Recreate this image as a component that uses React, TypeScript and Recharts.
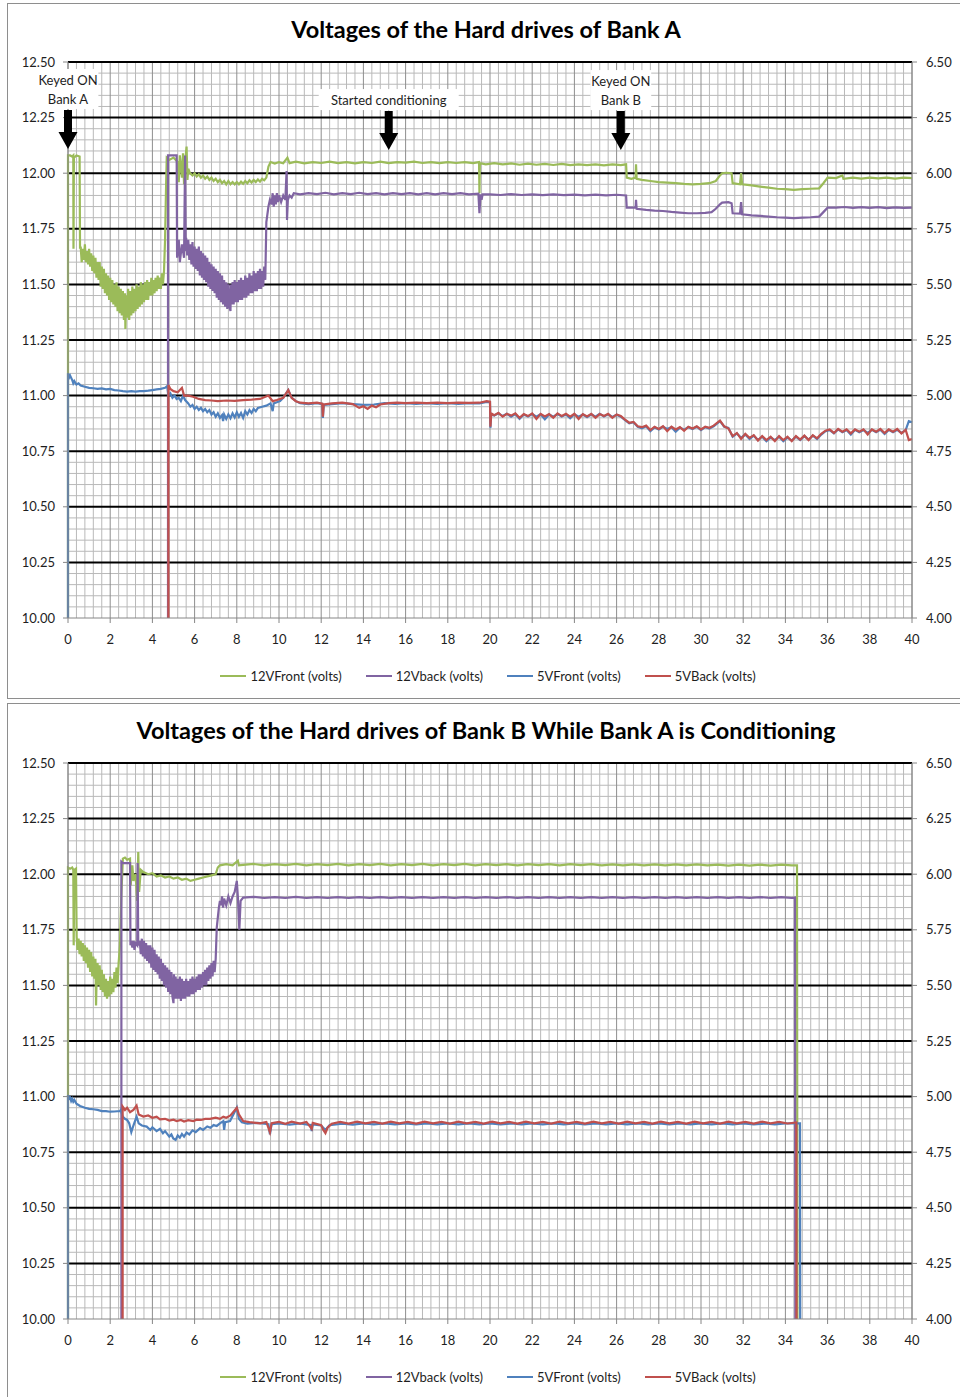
import { Line, LineChart, ReferenceDot, ReferenceLine, XAxis, YAxis } from "recharts";

type P = [number, number];

const seriesNames = ["12VFront (volts)", "12Vback (volts)", "5VFront (volts)", "5VBack (volts)"];
const seriesColors = ["#9BBB59", "#8064A2", "#4F81BD", "#C0504D"];

const leftTicks = [10, 10.25, 10.5, 10.75, 11, 11.25, 11.5, 11.75, 12, 12.25, 12.5];
const rightTicks = [4, 4.25, 4.5, 4.75, 5, 5.25, 5.5, 5.75, 6, 6.25, 6.5];
const xTicks = [0, 2, 4, 6, 8, 10, 12, 14, 16, 18, 20, 22, 24, 26, 28, 30, 32, 34, 36, 38, 40];

const titleA = "Voltages of the Hard drives of Bank A";
const titleB = "Voltages of the Hard drives of Bank B While Bank A is Conditioning";

// bank A, left axis (12V)
const bankA12Front: P[] = [
  [0, 10], [0, 12.08], [0.1, 12.08], [0.2, 12.075], [0.25, 12.08], [0.26, 11.66], [0.28, 12.07], [0.4, 12.08], [0.55, 12.075], [0.57, 11.66],
  [0.6, 11.67], [0.65, 11.6], [0.7, 11.66], [0.75, 11.61], [0.8, 11.68], [0.85, 11.6], [0.9, 11.65], [0.95, 11.59], [1.0, 11.66], [1.05, 11.58],
  [1.1, 11.64], [1.15, 11.56], [1.2, 11.63], [1.25, 11.55], [1.3, 11.62], [1.35, 11.53], [1.4, 11.6], [1.45, 11.52], [1.5, 11.6], [1.55, 11.49],
  [1.6, 11.58], [1.65, 11.48], [1.7, 11.57], [1.75, 11.46], [1.8, 11.55], [1.85, 11.45], [1.9, 11.54], [1.95, 11.43], [2.0, 11.53], [2.05, 11.42],
  [2.1, 11.52], [2.15, 11.41], [2.2, 11.5], [2.25, 11.4], [2.3, 11.51], [2.35, 11.38], [2.4, 11.49], [2.45, 11.37], [2.5, 11.48], [2.55, 11.36],
  [2.6, 11.47], [2.65, 11.34], [2.7, 11.46], [2.72, 11.3], [2.75, 11.45], [2.8, 11.35], [2.85, 11.48], [2.9, 11.34], [2.95, 11.47], [3.0, 11.36],
  [3.05, 11.49], [3.1, 11.37], [3.15, 11.48], [3.2, 11.38], [3.25, 11.5], [3.3, 11.39], [3.35, 11.49], [3.4, 11.4], [3.45, 11.51], [3.5, 11.41],
  [3.55, 11.5], [3.6, 11.42], [3.65, 11.51], [3.7, 11.43], [3.75, 11.52], [3.8, 11.43], [3.85, 11.51], [3.9, 11.45], [3.95, 11.53], [4.0, 11.45],
  [4.05, 11.52], [4.1, 11.46], [4.15, 11.53], [4.2, 11.47], [4.25, 11.54], [4.3, 11.48], [4.35, 11.53], [4.4, 11.48], [4.45, 11.55], [4.5, 11.5],
  [4.55, 11.56], [4.6, 11.7], [4.65, 11.95], [4.68, 12.07], [4.8, 12.06], [5.0, 12.07], [5.1, 12.06], [5.2, 12.05], [5.25, 11.96], [5.3, 12.08],
  [5.4, 11.98], [5.45, 12.09], [5.5, 11.95], [5.55, 12.05], [5.62, 12.12], [5.66, 11.97], [5.7, 12.02], [5.78, 12.0], [5.9, 11.99], [6.0, 12.0],
  [6.1, 11.985], [6.2, 11.995], [6.3, 11.98], [6.4, 11.99], [6.5, 11.975], [6.6, 11.985], [6.7, 11.97], [6.8, 11.98], [6.9, 11.965], [7.0, 11.975],
  [7.1, 11.96], [7.2, 11.97], [7.3, 11.955], [7.4, 11.965], [7.5, 11.95], [7.6, 11.965], [7.7, 11.95], [7.8, 11.96], [7.9, 11.95], [8.0, 11.96],
  [8.1, 11.95], [8.2, 11.962], [8.3, 11.952], [8.4, 11.965], [8.5, 11.955], [8.6, 11.968], [8.7, 11.958], [8.8, 11.97], [8.9, 11.96], [9.0, 11.972],
  [9.1, 11.962], [9.2, 11.975], [9.3, 11.968], [9.4, 11.98], [9.5, 12.03], [9.6, 12.05], [9.8, 12.043], [10.0, 12.05], [10.2, 12.045], [10.4, 12.07],
  [10.5, 12.045], [10.8, 12.052], [11.2, 12.044], [11.6, 12.05], [12.0, 12.046], [12.4, 12.052], [12.8, 12.045], [13.2, 12.05], [13.6, 12.044], [14.0, 12.05],
  [14.4, 12.046], [14.8, 12.052], [15.2, 12.045], [15.6, 12.05], [16.0, 12.048], [16.4, 12.052], [16.8, 12.046], [17.2, 12.05], [17.6, 12.045], [18.0, 12.05],
  [18.4, 12.046], [18.8, 12.05], [19.2, 12.045], [19.48, 12.05], [19.5, 11.91], [19.52, 12.045], [19.8, 12.04], [20.2, 12.045], [20.6, 12.04], [21.0, 12.044],
  [21.4, 12.038], [21.8, 12.043], [22.2, 12.038], [22.6, 12.042], [23.0, 12.037], [23.4, 12.042], [23.8, 12.036], [24.2, 12.04], [24.6, 12.036], [25.0, 12.04],
  [25.4, 12.035], [25.8, 12.04], [26.2, 12.036], [26.45, 12.04], [26.48, 11.98], [26.7, 11.975], [26.9, 11.98], [26.92, 12.04], [26.95, 11.975], [27.2, 11.97],
  [27.6, 11.965], [28.0, 11.96], [28.4, 11.958], [28.8, 11.955], [29.2, 11.952], [29.6, 11.95], [30.0, 11.952], [30.4, 11.955], [30.7, 11.965], [30.9, 11.99],
  [31.0, 12.0], [31.2, 12.002], [31.45, 12.0], [31.5, 11.955], [31.85, 11.95], [31.9, 12.0], [31.95, 11.95], [32.4, 11.945], [32.8, 11.94], [33.2, 11.935],
  [33.6, 11.93], [34.0, 11.928], [34.4, 11.925], [34.8, 11.928], [35.2, 11.93], [35.6, 11.932], [35.8, 11.955], [36.0, 11.98], [36.4, 11.978], [36.7, 11.99],
  [36.75, 11.975], [37.2, 11.98], [37.6, 11.976], [38.0, 11.98], [38.4, 11.977], [38.8, 11.98], [39.2, 11.976], [39.6, 11.98], [40, 11.978],
];

const bankA12Back: P[] = [
  [4.74, 10], [4.74, 12.08], [5.0, 12.08], [5.15, 12.08], [5.17, 11.62], [5.25, 11.7], [5.3, 11.6], [5.4, 11.68], [5.5, 11.62], [5.55, 12.08],
  [5.58, 11.65], [5.6, 11.71], [5.65, 11.63], [5.7, 11.7], [5.75, 11.61], [5.8, 11.68], [5.85, 11.59], [5.9, 11.69], [5.95, 11.58], [6.0, 11.67],
  [6.05, 11.57], [6.1, 11.66], [6.15, 11.56], [6.2, 11.67], [6.25, 11.54], [6.3, 11.65], [6.35, 11.53], [6.4, 11.64], [6.45, 11.52], [6.5, 11.63],
  [6.55, 11.51], [6.6, 11.62], [6.65, 11.49], [6.7, 11.6], [6.75, 11.48], [6.8, 11.59], [6.85, 11.47], [6.9, 11.58], [6.95, 11.46], [7.0, 11.57],
  [7.05, 11.44], [7.1, 11.56], [7.15, 11.43], [7.2, 11.55], [7.25, 11.42], [7.3, 11.54], [7.35, 11.41], [7.4, 11.52], [7.45, 11.4], [7.5, 11.51],
  [7.55, 11.39], [7.6, 11.5], [7.65, 11.4], [7.7, 11.38], [7.72, 11.5], [7.75, 11.41], [7.8, 11.51], [7.85, 11.41], [7.9, 11.52], [7.95, 11.42],
  [8.0, 11.51], [8.05, 11.42], [8.1, 11.52], [8.15, 11.43], [8.2, 11.53], [8.25, 11.43], [8.3, 11.52], [8.35, 11.44], [8.4, 11.54], [8.45, 11.44],
  [8.5, 11.53], [8.55, 11.45], [8.6, 11.55], [8.65, 11.46], [8.7, 11.54], [8.75, 11.46], [8.8, 11.56], [8.85, 11.47], [8.9, 11.55], [8.95, 11.47],
  [9.0, 11.56], [9.05, 11.48], [9.1, 11.57], [9.15, 11.48], [9.2, 11.56], [9.25, 11.49], [9.3, 11.58], [9.35, 11.52], [9.4, 11.78], [9.5, 11.85],
  [9.57, 11.88], [9.65, 11.86], [9.7, 11.91], [9.75, 11.85], [9.8, 11.9], [9.85, 11.86], [9.9, 11.91], [9.95, 11.87], [10.0, 11.9], [10.1, 11.87],
  [10.2, 11.9], [10.3, 11.88], [10.36, 12.01], [10.38, 11.79], [10.42, 11.88], [10.5, 11.9], [10.6, 11.89], [10.7, 11.91], [11.0, 11.905], [11.4, 11.91],
  [11.8, 11.906], [12.2, 11.912], [12.6, 11.905], [13.0, 11.91], [13.4, 11.906], [13.8, 11.912], [14.2, 11.906], [14.6, 11.91], [15.0, 11.905], [15.4, 11.91],
  [15.8, 11.906], [16.2, 11.91], [16.6, 11.905], [17.0, 11.91], [17.4, 11.905], [17.8, 11.91], [18.2, 11.906], [18.6, 11.91], [19.0, 11.905], [19.45, 11.908],
  [19.5, 11.82], [19.55, 11.905], [19.6, 11.88], [19.65, 11.905], [20.0, 11.905], [20.5, 11.902], [21.0, 11.906], [21.5, 11.902], [22.0, 11.905], [22.5, 11.901],
  [23.0, 11.905], [23.5, 11.901], [24.0, 11.904], [24.5, 11.9], [25.0, 11.904], [25.5, 11.9], [26.0, 11.903], [26.45, 11.9], [26.48, 11.845], [26.9, 11.845],
  [26.92, 11.88], [26.95, 11.84], [27.4, 11.835], [27.8, 11.832], [28.2, 11.83], [28.6, 11.826], [29.0, 11.823], [29.4, 11.82], [29.8, 11.82], [30.2, 11.822],
  [30.5, 11.825], [30.7, 11.84], [30.9, 11.86], [31.0, 11.868], [31.3, 11.87], [31.45, 11.865], [31.5, 11.82], [31.85, 11.818], [31.9, 11.87], [31.95, 11.815],
  [32.4, 11.81], [32.8, 11.808], [33.2, 11.805], [33.6, 11.802], [34.0, 11.8], [34.4, 11.798], [34.8, 11.8], [35.2, 11.802], [35.6, 11.805], [35.8, 11.825],
  [36.0, 11.845], [36.4, 11.845], [36.8, 11.848], [37.2, 11.844], [37.6, 11.847], [38.0, 11.844], [38.4, 11.847], [38.8, 11.843], [39.2, 11.846], [39.6, 11.844],
  [40, 11.845],
];

// bank A, right axis (5V)
const bankA5Front: P[] = [
  [0, 4], [0, 5.1], [0.05, 5.08], [0.1, 5.09], [0.2, 5.07], [0.25, 5.055], [0.3, 5.065], [0.4, 5.05], [0.5, 5.055], [0.6, 5.045],
  [0.8, 5.04], [1.0, 5.035], [1.2, 5.033], [1.4, 5.03], [1.6, 5.032], [1.8, 5.028], [2.0, 5.03], [2.2, 5.025], [2.4, 5.023], [2.6, 5.02],
  [2.8, 5.018], [3.0, 5.02], [3.2, 5.018], [3.4, 5.02], [3.6, 5.02], [3.8, 5.022], [4.0, 5.025], [4.2, 5.028], [4.4, 5.03], [4.6, 5.035],
  [4.7, 5.043], [4.76, 5.0], [4.85, 5.01], [4.95, 4.99], [5.05, 5.0], [5.15, 4.985], [5.25, 4.99], [5.35, 4.975], [5.45, 5.0], [5.55, 4.98],
  [5.7, 4.965], [5.8, 4.95], [5.9, 4.958], [6.0, 4.94], [6.1, 4.95], [6.2, 4.935], [6.3, 4.945], [6.4, 4.93], [6.5, 4.94], [6.6, 4.925],
  [6.7, 4.935], [6.8, 4.915], [6.9, 4.925], [7.0, 4.905], [7.1, 4.92], [7.2, 4.9], [7.3, 4.912], [7.35, 4.885], [7.4, 4.915], [7.5, 4.895],
  [7.6, 4.915], [7.7, 4.898], [7.8, 4.92], [7.9, 4.902], [8.0, 4.925], [8.1, 4.905], [8.2, 4.922], [8.3, 4.9], [8.4, 4.93], [8.5, 4.915],
  [8.6, 4.935], [8.7, 4.922], [8.8, 4.94], [8.9, 4.93], [9.0, 4.945], [9.2, 4.95], [9.4, 4.955], [9.6, 4.965], [9.7, 4.93], [9.75, 4.965],
  [9.9, 4.97], [10.05, 4.975], [10.2, 4.99], [10.44, 5.025], [10.6, 4.99], [10.8, 4.975], [11.0, 4.966], [11.4, 4.962], [11.8, 4.966], [12.05, 4.962],
  [12.08, 4.9], [12.12, 4.958], [12.5, 4.962], [13.0, 4.966], [13.5, 4.962], [14.0, 4.958], [14.5, 4.96], [15.0, 4.966], [15.5, 4.963], [16.0, 4.966],
  [16.5, 4.963], [17.0, 4.966], [17.5, 4.963], [18.0, 4.966], [18.5, 4.963], [19.0, 4.966], [19.5, 4.965], [19.84, 4.972], [20.0, 4.97], [20.02, 4.855],
  [20.05, 4.915], [20.2, 4.91], [20.4, 4.92], [20.6, 4.908], [20.8, 4.918], [21.0, 4.905], [21.2, 4.917], [21.4, 4.895], [21.6, 4.915], [21.8, 4.906],
  [22.0, 4.917], [22.2, 4.905], [22.4, 4.916], [22.6, 4.893], [22.8, 4.915], [23.0, 4.905], [23.2, 4.917], [23.4, 4.906], [23.6, 4.915], [23.8, 4.898],
  [24.0, 4.916], [24.2, 4.905], [24.4, 4.915], [24.6, 4.903], [24.8, 4.916], [25.0, 4.905], [25.2, 4.918], [25.4, 4.906], [25.6, 4.916], [25.8, 4.904],
  [26.0, 4.914], [26.2, 4.905], [26.4, 4.89], [26.6, 4.875], [26.8, 4.88], [27.0, 4.86], [27.2, 4.853], [27.4, 4.862], [27.6, 4.84], [27.8, 4.857],
  [28.0, 4.848], [28.2, 4.86], [28.4, 4.85], [28.6, 4.858], [28.8, 4.838], [29.0, 4.856], [29.2, 4.847], [29.4, 4.858], [29.6, 4.85], [29.8, 4.86],
  [30.0, 4.845], [30.2, 4.858], [30.4, 4.852], [30.6, 4.862], [30.9, 4.885], [31.1, 4.86], [31.3, 4.855], [31.5, 4.815], [31.7, 4.83], [31.9, 4.81],
  [32.1, 4.825], [32.3, 4.805], [32.5, 4.82], [32.7, 4.8], [32.9, 4.815], [33.1, 4.795], [33.3, 4.812], [33.5, 4.8], [33.7, 4.815], [33.9, 4.795],
  [34.1, 4.812], [34.3, 4.798], [34.5, 4.815], [34.7, 4.8], [34.9, 4.818], [35.1, 4.802], [35.3, 4.82], [35.5, 4.805], [35.7, 4.825], [35.9, 4.84],
  [36.1, 4.845], [36.3, 4.83], [36.5, 4.848], [36.7, 4.835], [36.9, 4.845], [37.1, 4.825], [37.3, 4.846], [37.5, 4.835], [37.7, 4.845], [37.9, 4.832],
  [38.1, 4.846], [38.3, 4.835], [38.5, 4.847], [38.7, 4.828], [38.9, 4.846], [39.1, 4.835], [39.3, 4.846], [39.5, 4.832], [39.7, 4.845], [39.85, 4.885],
  [40, 4.88],
];

const bankA5Back: P[] = [
  [4.76, 4], [4.76, 5.048], [4.85, 5.03], [5.0, 5.02], [5.2, 5.015], [5.4, 5.035], [5.5, 5.0], [5.7, 5.0], [5.93, 4.995], [6.2, 4.985],
  [6.5, 4.98], [6.8, 4.978], [7.1, 4.975], [7.5, 4.978], [7.9, 4.976], [8.3, 4.98], [8.7, 4.982], [9.1, 4.985], [9.5, 5.0], [9.7, 4.975],
  [9.9, 4.98], [10.2, 4.99], [10.44, 5.025], [10.6, 4.99], [10.8, 4.975], [11.0, 4.968], [11.4, 4.965], [11.8, 4.968], [12.05, 4.964], [12.08, 4.905],
  [12.12, 4.96], [12.5, 4.965], [13.0, 4.968], [13.5, 4.962], [13.8, 4.945], [14.0, 4.952], [14.2, 4.94], [14.4, 4.955], [14.6, 4.948], [14.8, 4.96],
  [15.2, 4.966], [15.6, 4.968], [16.0, 4.966], [16.5, 4.968], [17.0, 4.966], [17.5, 4.968], [18.0, 4.966], [18.5, 4.968], [19.0, 4.967], [19.5, 4.968],
  [19.84, 4.975], [20.0, 4.973], [20.02, 4.86], [20.06, 4.92], [20.2, 4.912], [20.4, 4.922], [20.6, 4.905], [20.8, 4.918], [21.0, 4.91], [21.2, 4.92],
  [21.4, 4.9], [21.6, 4.917], [21.8, 4.908], [22.0, 4.92], [22.2, 4.895], [22.4, 4.918], [22.6, 4.906], [22.8, 4.917], [23.0, 4.9], [23.2, 4.92],
  [23.4, 4.908], [23.6, 4.918], [23.8, 4.905], [24.0, 4.918], [24.2, 4.895], [24.4, 4.917], [24.6, 4.906], [24.8, 4.918], [25.0, 4.9], [25.2, 4.917],
  [25.4, 4.908], [25.6, 4.918], [25.8, 4.9], [26.0, 4.915], [26.2, 4.908], [26.4, 4.892], [26.6, 4.878], [26.8, 4.882], [27.0, 4.862], [27.2, 4.858],
  [27.4, 4.865], [27.6, 4.845], [27.8, 4.86], [28.0, 4.85], [28.2, 4.862], [28.4, 4.84], [28.6, 4.86], [28.8, 4.848], [29.0, 4.858], [29.2, 4.842],
  [29.4, 4.86], [29.6, 4.852], [29.8, 4.862], [30.0, 4.848], [30.2, 4.86], [30.4, 4.855], [30.6, 4.865], [30.9, 4.888], [31.1, 4.862], [31.3, 4.852],
  [31.5, 4.818], [31.7, 4.832], [31.9, 4.805], [32.1, 4.828], [32.3, 4.81], [32.5, 4.822], [32.7, 4.798], [32.9, 4.818], [33.1, 4.8], [33.3, 4.815],
  [33.5, 4.795], [33.7, 4.818], [33.9, 4.8], [34.1, 4.815], [34.3, 4.795], [34.5, 4.818], [34.7, 4.802], [34.9, 4.82], [35.1, 4.8], [35.3, 4.822],
  [35.5, 4.808], [35.7, 4.828], [35.9, 4.842], [36.1, 4.848], [36.3, 4.832], [36.5, 4.85], [36.7, 4.838], [36.9, 4.848], [37.1, 4.83], [37.3, 4.848],
  [37.5, 4.838], [37.7, 4.848], [37.9, 4.825], [38.1, 4.848], [38.3, 4.838], [38.5, 4.85], [38.7, 4.832], [38.9, 4.848], [39.1, 4.838], [39.3, 4.85],
  [39.5, 4.83], [39.7, 4.846], [39.85, 4.8], [40, 4.805],
];

// bank B, left axis (12V)
const bankB12Front: P[] = [
  [0, 10], [0, 12.03], [0.1, 12.025], [0.2, 12.03], [0.25, 12.02], [0.27, 11.68], [0.3, 12.02], [0.38, 12.025], [0.41, 11.72], [0.45, 11.66],
  [0.5, 11.71], [0.55, 11.64], [0.6, 11.7], [0.65, 11.63], [0.7, 11.69], [0.75, 11.61], [0.8, 11.68], [0.85, 11.6], [0.9, 11.67], [0.95, 11.58],
  [1.0, 11.66], [1.05, 11.56], [1.1, 11.65], [1.15, 11.54], [1.2, 11.63], [1.25, 11.53], [1.3, 11.62], [1.33, 11.41], [1.36, 11.55], [1.4, 11.6],
  [1.45, 11.5], [1.5, 11.59], [1.55, 11.48], [1.6, 11.57], [1.65, 11.47], [1.7, 11.55], [1.75, 11.45], [1.8, 11.53], [1.85, 11.44], [1.9, 11.52],
  [1.95, 11.45], [2.0, 11.54], [2.05, 11.46], [2.1, 11.53], [2.15, 11.47], [2.2, 11.56], [2.25, 11.49], [2.3, 11.58], [2.35, 11.51], [2.4, 11.6],
  [2.46, 11.68], [2.53, 11.91], [2.6, 12.07], [2.7, 12.075], [2.8, 12.065], [2.94, 12.07], [2.97, 11.95], [3.05, 12.04], [3.1, 11.97], [3.2, 12.0],
  [3.28, 11.88], [3.33, 12.1], [3.37, 11.92], [3.45, 12.02], [3.57, 12.01], [3.8, 12.0], [4.0, 12.005], [4.2, 11.99], [4.4, 11.995], [4.6, 11.985],
  [4.8, 11.99], [5.0, 11.98], [5.2, 11.985], [5.4, 11.975], [5.6, 11.98], [5.8, 11.97], [6.0, 11.975], [6.2, 11.98], [6.4, 11.985], [6.6, 11.99],
  [6.8, 11.995], [7.0, 12.0], [7.1, 12.03], [7.2, 12.04], [7.5, 12.045], [7.8, 12.04], [8.05, 12.06], [8.1, 12.04], [8.3, 12.042], [8.8, 12.046],
  [9.3, 12.04], [9.8, 12.045], [10.3, 12.041], [10.8, 12.046], [11.3, 12.04], [11.8, 12.045], [12.3, 12.041], [12.8, 12.046], [13.3, 12.04], [13.8, 12.045],
  [14.3, 12.041], [14.8, 12.046], [15.3, 12.04], [15.8, 12.045], [16.3, 12.041], [16.8, 12.046], [17.3, 12.04], [17.8, 12.045], [18.3, 12.041], [18.8, 12.046],
  [19.3, 12.04], [19.8, 12.045], [20.3, 12.041], [20.8, 12.045], [21.3, 12.04], [21.8, 12.045], [22.3, 12.041], [22.8, 12.045], [23.3, 12.04], [23.8, 12.045],
  [24.3, 12.041], [24.8, 12.045], [25.3, 12.04], [25.8, 12.044], [26.3, 12.04], [26.8, 12.044], [27.3, 12.04], [27.8, 12.044], [28.3, 12.04], [28.8, 12.044],
  [29.3, 12.04], [29.8, 12.044], [30.3, 12.04], [30.8, 12.043], [31.3, 12.039], [31.8, 12.043], [32.3, 12.039], [32.8, 12.043], [33.3, 12.039], [33.8, 12.043],
  [34.3, 12.04], [34.55, 12.04], [34.57, 10],
];

const bankB12Back: P[] = [
  [2.53, 10], [2.53, 12.056], [2.6, 12.05], [2.94, 12.05], [2.96, 11.68], [3.0, 11.7], [3.05, 11.67], [3.1, 11.7], [3.15, 11.66], [3.2, 11.69],
  [3.28, 11.68], [3.3, 12.05], [3.33, 11.68], [3.4, 11.7], [3.45, 11.64], [3.5, 11.71], [3.55, 11.63], [3.6, 11.7], [3.65, 11.62], [3.7, 11.69],
  [3.75, 11.61], [3.8, 11.68], [3.85, 11.6], [3.9, 11.68], [3.95, 11.58], [4.0, 11.67], [4.05, 11.57], [4.1, 11.66], [4.15, 11.56], [4.2, 11.64],
  [4.25, 11.55], [4.3, 11.63], [4.35, 11.53], [4.4, 11.62], [4.45, 11.52], [4.5, 11.6], [4.55, 11.5], [4.6, 11.59], [4.65, 11.49], [4.7, 11.58],
  [4.75, 11.47], [4.8, 11.57], [4.85, 11.46], [4.9, 11.56], [4.95, 11.45], [5.0, 11.42], [5.02, 11.55], [5.05, 11.44], [5.1, 11.54], [5.15, 11.44],
  [5.2, 11.53], [5.25, 11.44], [5.3, 11.54], [5.35, 11.43], [5.4, 11.53], [5.45, 11.44], [5.5, 11.52], [5.55, 11.44], [5.6, 11.53], [5.65, 11.45],
  [5.7, 11.52], [5.75, 11.45], [5.8, 11.53], [5.85, 11.46], [5.9, 11.54], [5.95, 11.46], [6.0, 11.53], [6.05, 11.47], [6.1, 11.54], [6.15, 11.48],
  [6.2, 11.55], [6.25, 11.48], [6.3, 11.55], [6.35, 11.49], [6.4, 11.56], [6.45, 11.5], [6.5, 11.57], [6.55, 11.5], [6.6, 11.58], [6.65, 11.52],
  [6.7, 11.59], [6.75, 11.53], [6.8, 11.6], [6.85, 11.54], [6.9, 11.61], [6.95, 11.56], [7.0, 11.62], [7.05, 11.76], [7.15, 11.85], [7.2, 11.88],
  [7.25, 11.86], [7.3, 11.9], [7.35, 11.85], [7.4, 11.89], [7.5, 11.86], [7.6, 11.9], [7.7, 11.87], [7.8, 11.9], [7.9, 11.92], [8.0, 11.97],
  [8.05, 11.9], [8.12, 11.75], [8.18, 11.88], [8.3, 11.895], [8.8, 11.898], [9.3, 11.893], [9.8, 11.897], [10.3, 11.893], [10.8, 11.898], [11.3, 11.893],
  [11.8, 11.897], [12.3, 11.893], [12.8, 11.897], [13.3, 11.893], [13.8, 11.897], [14.3, 11.893], [14.8, 11.897], [15.3, 11.893], [15.8, 11.897], [16.3, 11.893],
  [16.8, 11.897], [17.3, 11.893], [17.8, 11.897], [18.3, 11.893], [18.8, 11.897], [19.3, 11.893], [19.8, 11.897], [20.3, 11.893], [20.8, 11.897], [21.3, 11.893],
  [21.8, 11.897], [22.3, 11.893], [22.8, 11.897], [23.3, 11.893], [23.8, 11.897], [24.3, 11.893], [24.8, 11.897], [25.3, 11.893], [25.8, 11.897], [26.3, 11.893],
  [26.8, 11.897], [27.3, 11.893], [27.8, 11.897], [28.3, 11.893], [28.8, 11.897], [29.3, 11.893], [29.8, 11.897], [30.3, 11.893], [30.8, 11.897], [31.3, 11.893],
  [31.8, 11.897], [32.3, 11.893], [32.8, 11.897], [33.3, 11.893], [33.8, 11.897], [34.3, 11.893], [34.45, 11.895], [34.47, 10],
];

// bank B, right axis (5V)
const bankB5Front: P[] = [
  [0, 4], [0, 5.007], [0.05, 4.99], [0.1, 4.995], [0.15, 4.98], [0.2, 4.99], [0.25, 4.977], [0.3, 4.985], [0.4, 4.968], [0.57, 4.958],
  [0.8, 4.95], [1.0, 4.945], [1.2, 4.943], [1.4, 4.94], [1.6, 4.935], [1.8, 4.935], [2.0, 4.932], [2.2, 4.933], [2.46, 4.935], [2.5, 4.94],
  [2.59, 4.91], [2.7, 4.9], [2.8, 4.895], [2.9, 4.88], [3.0, 4.84], [3.1, 4.87], [3.25, 4.91], [3.35, 4.88], [3.5, 4.87], [3.73, 4.865],
  [3.9, 4.85], [4.0, 4.862], [4.2, 4.845], [4.36, 4.855], [4.5, 4.835], [4.6, 4.845], [4.8, 4.82], [4.9, 4.83], [4.99, 4.812], [5.1, 4.805],
  [5.2, 4.825], [5.3, 4.815], [5.4, 4.832], [5.5, 4.82], [5.62, 4.838], [5.75, 4.83], [5.9, 4.848], [6.05, 4.84], [6.26, 4.858], [6.4, 4.85],
  [6.6, 4.866], [6.75, 4.86], [6.9, 4.872], [7.05, 4.868], [7.2, 4.88], [7.36, 4.89], [7.4, 4.85], [7.45, 4.885], [7.68, 4.89], [8.0, 4.95],
  [8.1, 4.9], [8.24, 4.885], [8.5, 4.878], [9.0, 4.882], [9.5, 4.876], [9.57, 4.83], [9.65, 4.876], [10.0, 4.88], [10.5, 4.874], [11.0, 4.879],
  [11.5, 4.872], [11.55, 4.845], [11.6, 4.875], [12.0, 4.87], [12.2, 4.85], [12.4, 4.872], [13.0, 4.878], [13.5, 4.874], [14.0, 4.879], [14.5, 4.875],
  [15.0, 4.879], [15.5, 4.875], [16.0, 4.879], [16.5, 4.875], [17.0, 4.879], [17.5, 4.875], [18.0, 4.879], [18.5, 4.875], [19.0, 4.879], [19.5, 4.875],
  [20.0, 4.879], [20.5, 4.875], [21.0, 4.879], [21.5, 4.875], [22.0, 4.879], [22.5, 4.875], [23.0, 4.879], [23.5, 4.875], [24.0, 4.879], [24.5, 4.875],
  [25.0, 4.879], [25.5, 4.875], [26.0, 4.879], [26.5, 4.875], [27.0, 4.879], [27.5, 4.875], [28.0, 4.879], [28.5, 4.875], [29.0, 4.879], [29.5, 4.875],
  [30.0, 4.879], [30.5, 4.875], [31.0, 4.879], [31.5, 4.875], [32.0, 4.879], [32.5, 4.875], [33.0, 4.879], [33.5, 4.875], [34.0, 4.879], [34.69, 4.88],
  [34.7, 4],
];

const bankB5Back: P[] = [
  [2.59, 4], [2.59, 4.955], [2.7, 4.94], [2.8, 4.95], [2.94, 4.93], [3.1, 4.94], [3.25, 4.96], [3.35, 4.92], [3.57, 4.91], [3.8, 4.915],
  [4.0, 4.905], [4.2, 4.91], [4.36, 4.898], [4.6, 4.9], [4.8, 4.892], [5.0, 4.896], [5.15, 4.89], [5.35, 4.895], [5.5, 4.888], [5.7, 4.894],
  [5.94, 4.89], [6.1, 4.896], [6.3, 4.895], [6.5, 4.9], [6.73, 4.9], [7.0, 4.905], [7.2, 4.9], [7.36, 4.91], [7.5, 4.905], [7.7, 4.915],
  [8.0, 4.95], [8.1, 4.92], [8.3, 4.89], [8.6, 4.885], [9.1, 4.88], [9.4, 4.886], [9.57, 4.84], [9.65, 4.88], [10.0, 4.886], [10.3, 4.878],
  [10.6, 4.887], [11.0, 4.879], [11.3, 4.886], [11.55, 4.855], [11.6, 4.882], [12.0, 4.872], [12.1, 4.85], [12.2, 4.836], [12.3, 4.86], [12.5, 4.878],
  [12.9, 4.886], [13.3, 4.879], [13.7, 4.887], [14.1, 4.88], [14.5, 4.886], [14.9, 4.879], [15.3, 4.887], [15.7, 4.88], [16.1, 4.886], [16.5, 4.879],
  [16.9, 4.887], [17.3, 4.88], [17.7, 4.886], [18.1, 4.879], [18.5, 4.887], [18.9, 4.88], [19.3, 4.886], [19.7, 4.879], [20.1, 4.887], [20.5, 4.88],
  [20.9, 4.886], [21.3, 4.879], [21.7, 4.887], [22.1, 4.88], [22.5, 4.886], [22.9, 4.879], [23.3, 4.887], [23.7, 4.88], [24.1, 4.886], [24.5, 4.879],
  [24.9, 4.887], [25.3, 4.88], [25.7, 4.886], [26.1, 4.879], [26.5, 4.887], [26.9, 4.88], [27.3, 4.886], [27.7, 4.879], [28.1, 4.887], [28.5, 4.88],
  [28.9, 4.886], [29.3, 4.879], [29.7, 4.887], [30.1, 4.88], [30.5, 4.886], [30.9, 4.879], [31.3, 4.887], [31.7, 4.88], [32.1, 4.886], [32.5, 4.879],
  [32.9, 4.887], [33.3, 4.88], [33.7, 4.886], [34.1, 4.879], [34.52, 4.884], [34.53, 4],
];

type Note = { x: number; tip: number; lines: string[] };

const notesA: Note[] = [
  { x: 0, tip: 12.109, lines: ["Keyed ON", "Bank A"] },
  { x: 15.2, tip: 12.104, lines: ["Started conditioning"] },
  { x: 26.2, tip: 12.104, lines: ["Keyed ON", "Bank B"] },
];

// grid positions: 0.4 apart across x, 0.05 apart up the left axis
const minorX = Array.from({ length: 101 }, (_, i) => +(i * 0.4).toFixed(1)).filter((v) => v % 2 !== 0);
const minorY = Array.from({ length: 51 }, (_, i) => +(10 + i * 0.05).toFixed(2)).filter((v) => !leftTicks.includes(v));

const font = "Lato, 'Open Sans', sans-serif";
const tickStyle = { fontSize: 13, fill: "#1e1e1e", fontFamily: font };

const rows = (pts: P[]) => pts.map(([x, v]) => ({ x, v }));

function Arrow(props: any, note: Note) {
  const { cx, cy } = props;
  const lineH = 19;
  const w = Math.max(...note.lines.map((l) => l.length)) * 6.6 + 8;
  const boxTop = cy - 50 - (note.lines.length - 1) * lineH - 11;
  return (
    <g>
      <rect x={cx - w / 2} y={boxTop} width={w} height={note.lines.length * lineH + 2} fill="#fff" />
      {note.lines.map((l, i) => (
        <text
          key={l}
          x={cx}
          y={cy - 50 - (note.lines.length - 1 - i) * lineH}
          textAnchor="middle"
          dominantBaseline="central"
          style={{ fontSize: 13, fontFamily: font, fill: "#1e1e1e" }}
        >
          {l}
        </text>
      ))}
      <path
        d={`M${cx - 4},${cy - 39} L${cx + 4},${cy - 39} L${cx + 4},${cy - 17} L${cx + 9.5},${cy - 17} L${cx},${cy} L${cx - 9.5},${cy - 17} L${cx - 4},${cy - 17} Z`}
        fill="#000"
      />
    </g>
  );
}

function VoltageChart({ title, top, series, notes }: { title: string; top: number; series: P[][]; notes: Note[] }) {
  return (
    <div style={{ position: "absolute", left: 0, top, width: 960, height: 700 }}>
      <div
        style={{
          position: "absolute",
          left: 0,
          top: 29,
          width: 972,
          textAlign: "center",
          transform: "translateY(-50%)",
          fontFamily: font,
          fontWeight: 700,
          fontSize: 23.5,
          color: "#000",
        }}
      >
        {title}
      </div>
      <LineChart
        width={960}
        height={700}
        margin={{ top: 62, right: 0, bottom: 52, left: 8 }}
        style={{ position: "absolute", left: 0, top: 0 }}
      >
        <XAxis
          type="number"
          dataKey="x"
          domain={[0, 40]}
          ticks={xTicks}
          allowDuplicatedCategory={false}
          height={30}
          tickSize={5}
          tickMargin={12}
          stroke="#868686"
          tick={tickStyle}
        />
        <YAxis
          domain={[10, 12.5]}
          ticks={leftTicks}
          width={60}
          tickSize={5}
          tickMargin={8}
          stroke="#868686"
          tick={tickStyle}
          tickFormatter={(v: number) => v.toFixed(2)}
        />
        <YAxis
          yAxisId="r"
          orientation="right"
          domain={[4, 6.5]}
          ticks={rightTicks}
          width={48}
          tickSize={5}
          tickMargin={9}
          stroke="#868686"
          tick={tickStyle}
          tickFormatter={(v: number) => v.toFixed(2)}
        />
        {minorX.map((v) => (
          <ReferenceLine key={`mx${v}`} x={v} stroke="#b9b9b9" strokeWidth={1} />
        ))}
        {minorY.map((v) => (
          <ReferenceLine key={`my${v}`} y={v} stroke="#b9b9b9" strokeWidth={1} />
        ))}
        {xTicks.map((v) => (
          <ReferenceLine key={`Mx${v}`} x={v} stroke="#8f8f8f" strokeWidth={1} />
        ))}
        {leftTicks.slice(1).map((v) => (
          <ReferenceLine key={`My${v}`} y={v} stroke="#000" strokeWidth={2} />
        ))}
        {series.map((pts, i) => (
          <Line
            key={seriesNames[i]}
            data={rows(pts)}
            dataKey="v"
            yAxisId={i < 2 ? 0 : "r"}
            type="linear"
            stroke={seriesColors[i]}
            strokeWidth={2.2}
            dot={false}
            activeDot={false}
            isAnimationActive={false}
          />
        ))}
        {notes.map((n) => (
          <ReferenceDot
            key={n.x}
            x={n.x}
            y={n.tip}
            r={1}
            ifOverflow="visible"
            shape={(p: any) => Arrow(p, n)}
          />
        ))}
      </LineChart>
      <div
        style={{
          position: "absolute",
          left: 8,
          top: 676,
          width: 960,
          display: "flex",
          justifyContent: "center",
          alignItems: "center",
          gap: 24,
          transform: "translateY(-50%)",
          fontFamily: font,
          fontSize: 13,
          color: "#1e1e1e",
        }}
      >
        {seriesNames.map((n, i) => (
          <div key={n} style={{ display: "flex", alignItems: "center", gap: 4 }}>
            <div style={{ width: 26, height: 2, background: seriesColors[i] }} />
            <span>{n}</span>
          </div>
        ))}
      </div>
    </div>
  );
}

export default function App() {
  return (
    <div style={{ position: "absolute", left: 0, top: 0, width: 960, height: 1397, background: "#fff", overflow: "hidden" }}>
      <div style={{ position: "absolute", left: 7, top: 3, width: 960, height: 694, border: "1px solid #8e8e8e" }} />
      <div style={{ position: "absolute", left: 7, top: 703, width: 960, height: 720, border: "1px solid #8e8e8e" }} />
      <VoltageChart title={titleA} top={0} series={[bankA12Front, bankA12Back, bankA5Front, bankA5Back]} notes={notesA} />
      <VoltageChart title={titleB} top={701} series={[bankB12Front, bankB12Back, bankB5Front, bankB5Back]} notes={[]} />
    </div>
  );
}
